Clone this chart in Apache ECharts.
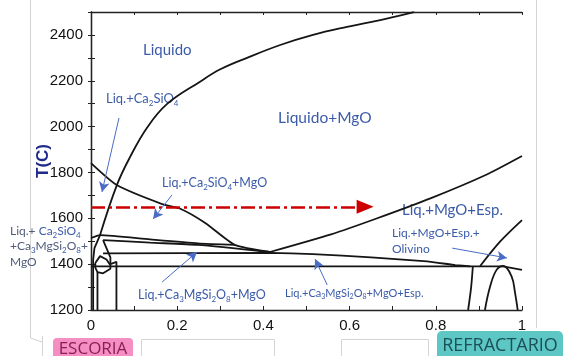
<!DOCTYPE html>
<html><head><meta charset="utf-8">
<script src="https://cdn.jsdelivr.net/npm/echarts@6/dist/echarts.min.js"></script>
<style>html,body{margin:0;padding:0;background:#fff}#c{width:563px;height:356px}</style>
</head><body><div id="c"></div>
<script>
// ---- axis ticks ----
const xTickLabels = ['0','0.2','0.4','0.6','0.8','1'];
const yTickLabels = [1200,1400,1600,1800,2000,2200,2400];
// ---- phase boundaries [x fraction, T (C)] ----
const liqMgO = [[0.021,1527],[0.060,1745],[0.0905,1867],[0.130,1995],[0.176,2098],[0.253,2196],[0.300,2250],[0.362,2300],[0.439,2356],[0.515,2400],[0.594,2435],[0.671,2465],[0.747,2498],[0.75,2500]];
const liqC2S = [[0,1841],[0.060,1745],[0.165,1662],[0.206,1643],[0.265,1580],[0.334,1484],[0.415,1453]];
const vRightArm = [[0.415,1453],[0.557,1530],[0.661,1598],[0.789,1688],[0.917,1790],[1.0,1872]];
const solA = [[0,1514],[0.021,1527],[0.137,1508],[0.248,1491],[0.334,1484]];
const solB = [[0.028,1505],[0.137,1494],[0.248,1484],[0.415,1453]];
const line1450 = [[0.028,1447],[0.415,1449],[0.515,1444],[0.650,1430],[0.780,1412],[0.845,1396],[0.88,1390]];
const line1390 = [[0,1390],[0.956,1390],[1.0,1375]];
const leftA = [[0.021,1527],[0.008,1470],[0.005,1420],[0.005,1200]];
const leftB = [[0.028,1505],[0.045,1430],[0.045,1400]];
const leftPent = [[0.010,1405],[0.021,1435],[0.036,1420],[0.045,1395],[0.045,1380],[0.028,1360],[0.015,1365],[0.010,1385],[0.010,1405]];
const leftV2 = [[0.015,1365],[0.015,1200]];
const leftV3 = [[0.045,1400],[0.059,1410],[0.059,1200]];
const rightV = [[0.886,1392],[0.882,1300],[0.875,1200]];
const olivLiq = [[0.903,1392],[0.949,1498],[1.0,1592]];
const arch = [[0.914,1200],[0.926,1302],[0.941,1375],[0.957,1392],[0.976,1346],[0.984,1274],[0.990,1200]];
// ---- red path & annotation arrows ----
const redPath = [[0,1650],[0.636,1650]];
const blueArrows = [
  [[0.065,2038],[0.0255,1715]],
  [[0.188,1702],[0.144,1597]],
  [[-0.007,1523],[0.016,1492]],
  [[0.165,1322],[0.246,1453]],
  [[0.548,1309],[0.520,1422]],
  [[0.838,1470],[0.965,1427]]
];
</script>
<script>
const chart = echarts.init(document.getElementById('c'), null, {renderer:'canvas'});
const lineColor = '#151515';
function ln(data, smooth){
  return {type:'line', data:data, showSymbol:false, symbol:'none', smooth: smooth||0, clip:false,
    lineStyle:{color:lineColor, width:1.8}, silent:true, animation:false};
}
const blue = '#3B5BA9';
const ff = 'Lato, "Open Sans", sans-serif';
function richSub(fs){
  return {
    n:{fontSize:fs, fill:blue, fontFamily:ff, lineHeight:fs+4},
    s:{fontSize:Math.round(fs*0.65), fill:blue, fontFamily:ff, verticalAlign:'bottom', lineHeight:fs+4},
    g:{fontSize:fs, fill:'#4F5C7A', fontFamily:ff, lineHeight:fs+4}
  };
}
function txt(x,y,text,fs){
  return {type:'text', x:x, y:y, silent:true, style:{text:text, fontSize:fs, fontFamily:ff, fill:blue, verticalAlign:'middle', align:'left', rich: richSub(fs)}};
}
const axisFont = '"Liberation Sans", Arial, sans-serif';
const option = {
  animation:false,
  backgroundColor:'#fff',
  grid:{left:91, top:12, width:431, height:298},
  xAxis:[{type:'value', min:0, max:1, interval:0.1, position:'bottom',
      axisLine:{lineStyle:{color:'#222', width:1.3}},
      axisTick:{inside:true, length:4, lineStyle:{color:'#222'}},
      splitLine:{show:false},
      axisLabel:{margin:8, color:'#111', fontSize:15, fontFamily:axisFont,
        formatter:function(v){const k=Math.round(v*10); return k%2===0 ? xTickLabels[k/2] : '';}}},
    {type:'value', min:0, max:1, interval:0.1, position:'top',
      axisLine:{lineStyle:{color:'#222', width:1.3}},
      axisTick:{inside:true, length:3, lineStyle:{color:'#222'}},
      splitLine:{show:false}, axisLabel:{show:false}}],
  yAxis:[{type:'value', min:1200, max:2500, interval:100, position:'left',
      axisLine:{lineStyle:{color:'#222', width:1.3}},
      axisTick:{inside:true, length:4, lineStyle:{color:'#222'}},
      splitLine:{show:false},
      axisLabel:{margin:8, color:'#111', fontSize:15, fontFamily:axisFont,
        formatter:function(v){return yTickLabels.indexOf(v)>=0 ? String(v) : '';}}},
    {type:'value', min:1200, max:2500, interval:100, position:'right',
      axisLine:{lineStyle:{color:'#222', width:1.3}},
      axisTick:{inside:true, length:3, lineStyle:{color:'#222'}},
      splitLine:{show:false}, axisLabel:{show:false}}],
  series:[
    ln(liqMgO, 0.4), ln(liqC2S, 0.2), ln(vRightArm, 0.2), ln(solA, 0.2), ln(solB, 0.2),
    ln(line1450, 0.1), ln(line1390), ln(leftA), ln(leftB), ln(leftPent), ln(leftV2), ln(leftV3),
    ln(rightV, 0.3), ln(olivLiq, 0.3), ln(arch, 0.4),
    {type:'line', data:[], silent:true, animation:false,
      markLine:{silent:true, animation:false, symbol:['none','triangle'], symbolSize:[14,17],
        label:{show:false}, lineStyle:{color:'#CC0000', width:2.6, type:[14,4,3,4]},
        data:[[{coord:redPath[0]},{coord:redPath[1]}]]}},
    {type:'line', data:[], silent:true, animation:false,
      markLine:{silent:true, animation:false, symbol:['none','arrow'], symbolSize:[8,10],
        label:{show:false}, lineStyle:{color:'#4A6CC4', width:1, type:'solid'},
        data: blueArrows.map(a=>[{coord:a[0]},{coord:a[1]}])}}
  ],
  graphic:[
    {type:'line', shape:{x1:30.5,y1:0,x2:30.5,y2:338}, style:{stroke:'#d4d4d4', lineWidth:1}, silent:true},
    {type:'line', shape:{x1:536.5,y1:0,x2:536.5,y2:328}, style:{stroke:'#d4d4d4', lineWidth:1}, silent:true},
    {type:'line', shape:{x1:30.5,y1:338,x2:42,y2:342}, style:{stroke:'#d4d4d4', lineWidth:1}, silent:true},
    {type:'line', shape:{x1:42.5,y1:336,x2:42.5,y2:356}, style:{stroke:'#d4d4d4', lineWidth:1}, silent:true},
    {type:'rect', shape:{x:141.5,y:339.5,width:133,height:30}, style:{fill:'#fff', stroke:'#d4d4d4', lineWidth:1}, silent:true},
    {type:'rect', shape:{x:341.5,y:339.5,width:87,height:30}, style:{fill:'#fff', stroke:'#d4d4d4', lineWidth:1}, silent:true},
    {type:'rect', shape:{x:53,y:338,width:80,height:28,r:4}, style:{fill:'#F58FC3'}, silent:true},
    {type:'text', x:93, y:349, silent:true, style:{text:'ESCORIA', fill:'#8A1E55', fontSize:17, fontFamily:'"Open Sans", sans-serif', align:'center', verticalAlign:'middle'}},
    {type:'rect', shape:{x:437,y:331,width:126,height:35,r:5}, style:{fill:'#5CC7C4'}, silent:true},
    {type:'text', x:500, y:346, silent:true, style:{text:'REFRACTARIO', fill:'#1D4F57', fontSize:18, fontFamily:'"Open Sans", sans-serif', align:'center', verticalAlign:'middle'}},
    {type:'text', x:43, y:161, rotation:Math.PI/2, silent:true, style:{text:'T(C)', fill:'#1F2A8C', fontSize:17, fontWeight:'bold', fontFamily:axisFont, align:'center', verticalAlign:'middle'}},
    txt(143,50,'{n|Liquido}',15),
    txt(278,118,'{n|Liquido+MgO}',15.5),
    txt(106,99,'{n|Liq.+Ca}{s|2}{n|SiO}{s|4}',13),
    txt(162,183,'{n|Liq.+Ca}{s|2}{n|SiO}{s|4}{n|+MgO}',12.5),
    txt(10,231,'{g|Liq.+ }{n|Ca}{s|2}{n|SiO}{s|4}',12),
    txt(10,246,'{g|+Ca}{s|3}{g|MgSi}{s|2}{g|O}{s|8}{g|+}',12),
    txt(10,262,'{g|MgO}',12),
    txt(138,295,'{n|Liq.+Ca}{s|3}{n|MgSi}{s|2}{n|O}{s|8}{n|+MgO}',12.5),
    txt(285,293,'{n|Liq.+Ca}{s|3}{n|MgSi}{s|2}{n|O}{s|8}{n|+MgO+Esp.}',11),
    txt(402,210,'{n|Liq.+MgO+Esp.}',15),
    txt(392,233,'{n|Liq.+MgO+Esp.+}',12),
    txt(392,249,'{n|Olivino}',12)
  ]
};
chart.setOption(option);
</script>
</body></html>
